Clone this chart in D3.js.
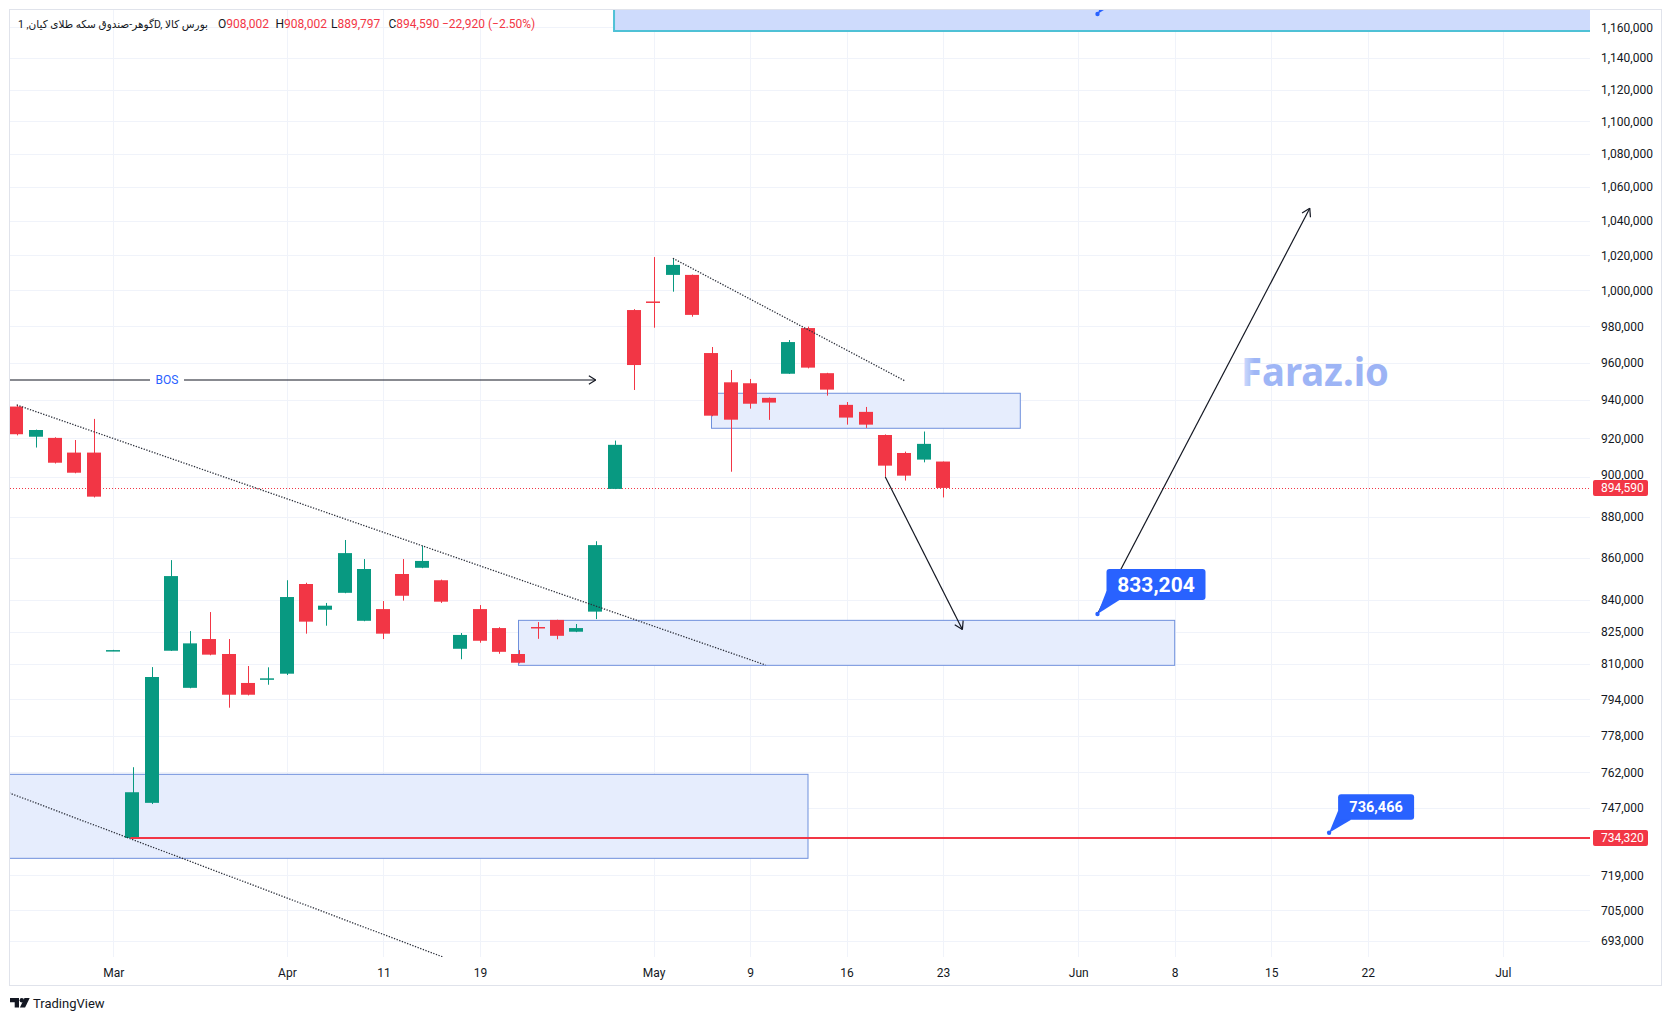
<!DOCTYPE html>
<html>
<head>
<meta charset="utf-8">
<script src="https://cdn.jsdelivr.net/npm/d3@7"></script>
<style>
body { margin: 0; background: #fff; }
svg { display: block; font-family: Roboto, "DejaVu Sans", sans-serif; }
</style>
</head>
<body>
<script>
// daily candles, one entry per trading day (bar index)
var opens  = [936600, 920800, 920200, 912600, 912600, 816000, 734320, 749000, 816100, 799200,
              821500, 814600, 801400, 803000, 805600, 847400, 835200, 843200, 830000, 835500,
              852200, 855200, 849200, 817000, 835500, 826600, 814600, 827100, 830400, 824900,
              834300, 894100, 989000, 993800, 1008800, 1008800, 965300, 949500, 949000, 941200,
              954100, 979000, 954400, 937500, 933800, 921700, 912400, 909000, 908002];
var highs  = [937500, 924500, 920500, 919100, 930100, 816500, 764200, 808600, 858900, 825200,
              834100, 821500, 809100, 808500, 849200, 848000, 838400, 868700, 859400, 839300,
              859400, 865900, 849500, 824300, 837400, 827000, 816400, 829400, 830500, 828500,
              868100, 918800, 989500, 1019000, 1018300, 1009000, 968600, 956100, 951300, 941400,
              972400, 979800, 954600, 939000, 936400, 922000, 913100, 923500, 908002];
var lows   = [921500, 915200, 907000, 902000, 889800, 816000, 734320, 748500, 816000, 799000,
              814000, 790300, 795800, 800600, 805000, 824000, 827700, 843000, 829800, 821500,
              839500, 855000, 838400, 812200, 819800, 814700, 810300, 821600, 821400, 824700,
              830800, 894000, 945400, 979200, 999300, 985300, 931500, 902800, 935500, 929600,
              954000, 957000, 942400, 927100, 925400, 900300, 898300, 907600, 889797];
var closes = [922100, 924300, 907400, 902300, 890200, 816400, 753500, 804100, 851200, 819500,
              814300, 796100, 796100, 803500, 841200, 829600, 837100, 862300, 854600, 824000,
              841800, 858500, 839000, 823400, 820700, 815600, 810600, 826800, 823000, 826600,
              866200, 916600, 958800, 993300, 1014500, 986300, 931800, 929700, 938100, 938700,
              971300, 957400, 945600, 930800, 927100, 905900, 900800, 917100, 894590];

var priceTicks = [1160000, 1140000, 1120000, 1100000, 1080000, 1060000, 1040000, 1020000, 1000000,
                  980000, 960000, 940000, 920000, 900000, 880000, 860000, 840000, 825000, 810000,
                  794000, 778000, 762000, 747000, 719000, 705000, 693000];
var dateTickBars   = [5, 14, 19, 24, 33, 38, 43, 48, 55, 60, 65, 70, 77];
var dateTickLabels = ["Mar", "Apr", "11", "19", "May", "9", "16", "23", "Jun", "8", "15", "22", "Jul"];

// drawings: zones (bar from/to, price top/bottom)
var zoneFrom   = [-2, 26, 36, 30.95];
var zoneTo     = [41, 60, 52, 90];
var zoneTop    = [761150, 830210, 943650, 1300000];
var zoneBottom = [725930, 809410, 925200, 1157580];

// dotted trend lines [bar1, price1, bar2, price2]
var trendLines = [[0, 937460, 38.8, 809550], [-0.4, 753250, 22.1, 686600], [34, 1018300, 46, 950380]];
// arrows [bar1, price1, bar2, price2]
var arrows = [[45, 900300, 49, 825910], [56, 833204, 67, 1047420]];
var bosLevel = 950750, bosEnd = 30;
var supportLevel = 734320, supportFrom = 6;
var lastPrice = 894590;
var calloutBars = [56, 68], calloutPrices = [833204, 736466], calloutTexts = ["833,204", "736,466"];

var W = 1673, H = 1021;
var pane = {left: 10, top: 10, right: 1590, bottom: 957};
var up = "#089981", down = "#f23645", gridColor = "#f0f3fa", textColor = "#131722";

var svg = d3.select("body").append("svg").attr("width", W).attr("height", H);

var x = d3.scaleLinear().domain([0, 48]).range([16.7, 943.1]);
var y = d3.scaleLog().domain([686630, 1171370]).range([pane.bottom, pane.top]);
var step = x(1) - x(0);
var bodyW = step * 0.75;
var fmt = d3.format(",");

svg.append("defs").append("clipPath").attr("id", "pane")
    .append("rect").attr("x", pane.left).attr("y", pane.top)
    .attr("width", pane.right - pane.left).attr("height", pane.bottom - pane.top);

var grad = svg.select("defs").append("linearGradient").attr("id", "wm")
    .attr("x1", "0%").attr("x2", "100%");
grad.append("stop").attr("offset", "0%").attr("stop-color", "#dbe4fd");
grad.append("stop").attr("offset", "9%").attr("stop-color", "#9fb6f6");
grad.append("stop").attr("offset", "100%").attr("stop-color", "#9cb3f5");

// grid
svg.append("g").selectAll("line").data(priceTicks).enter().append("line")
    .attr("x1", pane.left).attr("x2", pane.right)
    .attr("y1", function(d) { return Math.round(y(d)) + 0.5; })
    .attr("y2", function(d) { return Math.round(y(d)) + 0.5; })
    .attr("stroke", gridColor);
svg.append("g").selectAll("line").data(dateTickBars).enter().append("line")
    .attr("x1", function(d) { return Math.round(x(d)) + 0.5; })
    .attr("x2", function(d) { return Math.round(x(d)) + 0.5; })
    .attr("y1", pane.top).attr("y2", pane.bottom)
    .attr("stroke", gridColor);

var plot = svg.append("g").attr("clip-path", "url(#pane)");

// zones
plot.selectAll("rect.zone").data(zoneFrom).enter().append("rect")
    .attr("class", "zone")
    .attr("x", function(d) { return x(d); })
    .attr("y", function(d, i) { return y(zoneTop[i]); })
    .attr("width", function(d, i) { return x(zoneTo[i]) - x(d); })
    .attr("height", function(d, i) { return y(zoneBottom[i]) - y(zoneTop[i]); })
    .attr("fill", function(d, i) { return i == 3 ? "#cedbfc" : "#e6edfd"; })
    .attr("stroke", function(d, i) { return i == 3 ? "#4fc1d6" : "#6f90dc"; })
    .attr("stroke-width", function(d, i) { return i == 3 ? 2 : 1; });

// last price line
plot.append("line")
    .attr("x1", pane.left).attr("x2", pane.right)
    .attr("y1", Math.round(y(lastPrice)) + 0.5).attr("y2", Math.round(y(lastPrice)) + 0.5)
    .attr("stroke", down).attr("stroke-dasharray", "1,2");

// candles
var candles = plot.selectAll("g.candle").data(closes).enter().append("g").attr("class", "candle");
candles.append("line")
    .attr("x1", function(d, i) { return Math.round(x(i)) + 0.5; })
    .attr("x2", function(d, i) { return Math.round(x(i)) + 0.5; })
    .attr("y1", function(d, i) { return y(highs[i]); })
    .attr("y2", function(d, i) { return y(lows[i]); })
    .attr("stroke", function(d, i) { return d >= opens[i] ? up : down; });
candles.append("rect")
    .attr("x", function(d, i) { return Math.round(x(i) - bodyW / 2); })
    .attr("y", function(d, i) { return y(Math.max(d, opens[i])); })
    .attr("width", Math.round(bodyW))
    .attr("height", function(d, i) { return Math.max(1.5, Math.abs(y(d) - y(opens[i]))); })
    .attr("fill", function(d, i) { return d >= opens[i] ? up : down; });

// trend lines
plot.selectAll("line.trend").data(trendLines).enter().append("line")
    .attr("class", "trend")
    .attr("x1", function(d) { return x(d[0]); }).attr("y1", function(d) { return y(d[1]); })
    .attr("x2", function(d) { return x(d[2]); }).attr("y2", function(d) { return y(d[3]); })
    .attr("stroke", "#2a2e39").attr("stroke-width", 1.3).attr("stroke-dasharray", "1.3,1.5");

// support line
plot.append("line")
    .attr("x1", x(supportFrom) - 2).attr("x2", pane.right)
    .attr("y1", y(supportLevel)).attr("y2", y(supportLevel))
    .attr("stroke", down).attr("stroke-width", 2);

function arrowHead(g, x1, y1, x2, y2, len) {
    var a = Math.atan2(y2 - y1, x2 - x1);
    [-0.55, 0.55].forEach(function(s) {
        g.append("line")
            .attr("x1", x2).attr("y1", y2)
            .attr("x2", x2 - len * Math.cos(a + s)).attr("y2", y2 - len * Math.sin(a + s))
            .attr("stroke", textColor).attr("stroke-width", 1.2);
    });
}

// BOS
var bosY = y(bosLevel);
plot.append("line").attr("x1", pane.left).attr("x2", 150).attr("y1", bosY).attr("y2", bosY)
    .attr("stroke", textColor).attr("stroke-width", 1.2);
plot.append("line").attr("x1", 184).attr("x2", x(bosEnd)).attr("y1", bosY).attr("y2", bosY)
    .attr("stroke", textColor).attr("stroke-width", 1.2);
arrowHead(plot, 184, bosY, x(bosEnd), bosY, 8);
plot.append("text").attr("x", 167).attr("y", bosY).attr("dy", "0.35em")
    .attr("text-anchor", "middle").attr("font-size", 12).attr("fill", "#2962ff").text("BOS");

// arrows
arrows.forEach(function(a) {
    var x1 = x(a[0]), y1 = y(a[1]), x2 = x(a[2]), y2 = y(a[3]);
    plot.append("line").attr("x1", x1).attr("y1", y1).attr("x2", x2).attr("y2", y2)
        .attr("stroke", textColor).attr("stroke-width", 1.2);
    arrowHead(plot, x1, y1, x2, y2, 9);
});

// callouts
function callout(bar, price, label, big) {
    var px = x(bar), py = y(price);
    var bw = big ? 99 : 76, bh = big ? 31 : 25.5, off = big ? 14 : 13;
    var bx = px + 9, by = py - off - bh;
    plot.append("path")
        .attr("d", "M" + bx + "," + (by + bh - 9) + "L" + px + "," + py + "L" + (bx + 13) + "," + (by + bh) + "Z")
        .attr("fill", "#2962ff");
    plot.append("circle").attr("cx", px).attr("cy", py).attr("r", 2.2).attr("fill", "#2962ff");
    plot.append("rect").attr("x", bx).attr("y", by).attr("width", bw).attr("height", bh)
        .attr("rx", 3).attr("fill", "#2962ff");
    if (label) {
        plot.append("text").attr("x", bx + bw / 2).attr("y", by + bh / 2).attr("dy", "0.36em")
            .attr("text-anchor", "middle").attr("font-weight", "bold")
            .attr("font-size", big ? 21 : 14.5).attr("fill", "#fff").text(label);
    }
}
calloutBars.forEach(function(b, i) { callout(b, calloutPrices[i], calloutTexts[i], i == 0); });
callout(56, 1168700, "", true); // target note above the visible range

// watermark
svg.append("text").attr("x", 1241).attr("y", 386)
    .attr("font-family", "'Noto Sans', sans-serif").attr("font-weight", "bold")
    .attr("font-size", 40).attr("textLength", 148).attr("lengthAdjust", "spacingAndGlyphs")
    .attr("fill", "url(#wm)").text("Faraz.io");

// price axis
var yAxis = svg.append("g").attr("transform", "translate(" + pane.right + ",0)")
    .call(d3.axisRight(y).tickValues(priceTicks).tickFormat(fmt).tickSize(0).tickPadding(11));
yAxis.select(".domain").remove();
yAxis.selectAll("text").attr("font-size", 12).attr("fill", textColor).attr("font-family", "Roboto, sans-serif")
    .attr("dy", function(d) { return d == 900000 ? "0.1em" : "0.32em"; });

// price labels on axis
[[lastPrice], [supportLevel]].forEach(function(p) {
    var py = y(p[0]);
    svg.append("rect").attr("x", 1593).attr("y", py - 8).attr("width", 55).attr("height", 16)
        .attr("rx", 2).attr("fill", down);
    svg.append("text").attr("x", 1601).attr("y", py).attr("dy", "0.35em")
        .attr("font-size", 12).attr("fill", "#fff").text(fmt(p[0]));
});

// time axis
var xAxis = svg.append("g").attr("transform", "translate(0," + pane.bottom + ")")
    .call(d3.axisBottom(x).tickValues(dateTickBars)
        .tickFormat(function(d, i) { return dateTickLabels[i]; }).tickSize(0).tickPadding(11));
xAxis.select(".domain").remove();
xAxis.selectAll("text").attr("font-size", 12).attr("fill", textColor).attr("font-family", "Roboto, sans-serif");

// frame
svg.append("rect").attr("x", 9.5).attr("y", 9.5).attr("width", 1652).attr("height", 976)
    .attr("fill", "none").attr("stroke", "#e0e3eb");

// legend
svg.append("text").attr("x", 18).attr("y", 27.5).attr("font-size", 11).attr("fill", textColor)
    .attr("direction", "ltr").attr("textLength", 190).attr("lengthAdjust", "spacingAndGlyphs")
    .text("گوهر-صندوق سکه طلای کیان, 1D, بورس کالا");
var ohlcKeys = ["O", "H", "L", "C"];
var ohlcVals = [opens[48], highs[48], lows[48], closes[48]];
var ohlcX = [218, 275.5, 331, 388.5];
ohlcKeys.forEach(function(k, i) {
    var t = svg.append("text").attr("x", ohlcX[i]).attr("y", 27.5).attr("font-size", 12);
    t.append("tspan").attr("fill", textColor).text(k);
    t.append("tspan").attr("fill", down).text(fmt(ohlcVals[i]));
});
svg.append("text").attr("x", 442).attr("y", 27.5).attr("font-size", 12).attr("fill", down)
    .text("\u221222,920 (\u22122.50%)");

// TradingView logo
var logo = svg.append("g").attr("fill", textColor);
logo.append("path").attr("d", "M10,998h9v9.5h-4.3v-5.2h-4.7z");
logo.append("circle").attr("cx", 21.8).attr("cy", 1000.2).attr("r", 2.2);
logo.append("path").attr("d", "M24.5,998h5.2l-4.6,9.5h-5.2z");
svg.append("text").attr("x", 33).attr("y", 1007.5).attr("font-size", 13).attr("fill", textColor)
    .text("TradingView");
</script>
</body>
</html>
